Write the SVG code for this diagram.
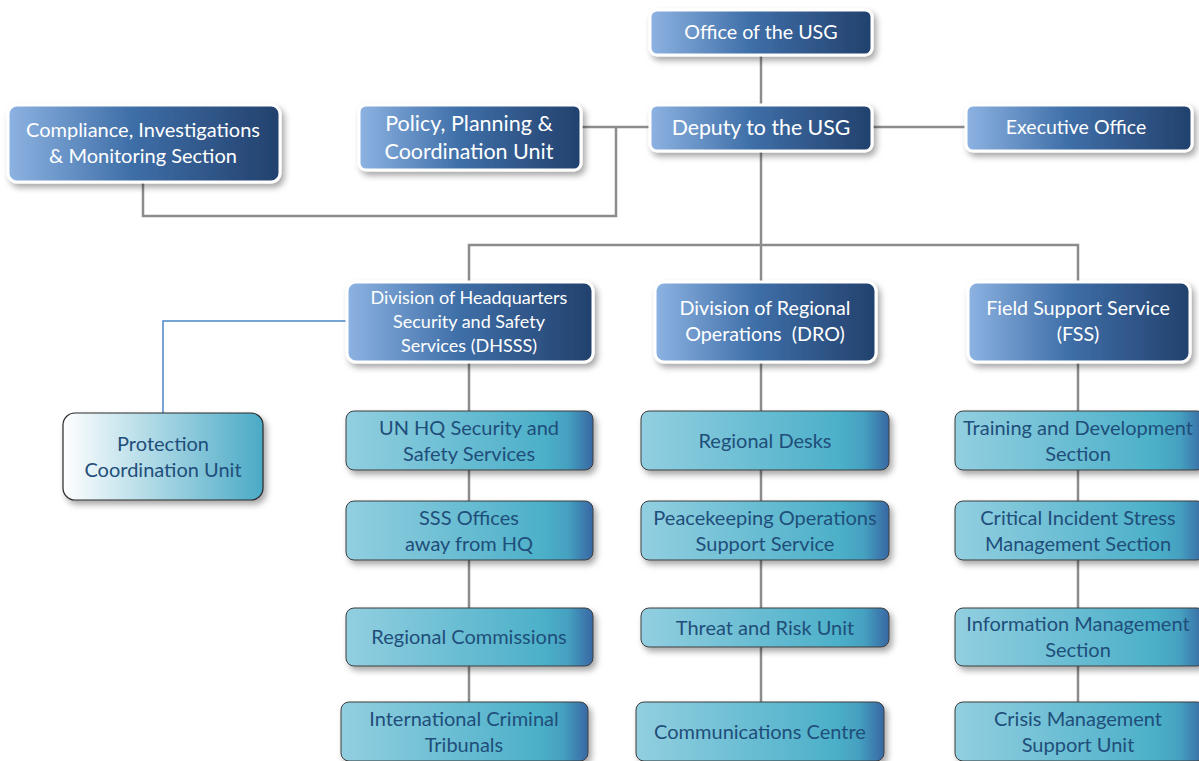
<svg xmlns="http://www.w3.org/2000/svg" width="1199" height="761" viewBox="0 0 1199 761">
<defs>
<linearGradient id="gTop" x1="0" y1="0" x2="1" y2="0">
<stop offset="0" stop-color="#8db3e2"/>
<stop offset="0.45" stop-color="#3f6fa8"/>
<stop offset="1" stop-color="#22416d"/>
</linearGradient>
<linearGradient id="gLow" x1="0" y1="0" x2="1" y2="0">
<stop offset="0" stop-color="#92cfe0"/>
<stop offset="0.8" stop-color="#4cb0c9"/>
<stop offset="0.9" stop-color="#45a0c0"/>
<stop offset="1" stop-color="#3867a3"/>
</linearGradient>
<linearGradient id="gPcu" x1="0" y1="0" x2="1" y2="0">
<stop offset="0" stop-color="#ffffff"/>
<stop offset="1" stop-color="#4aaac6"/>
</linearGradient>
<filter id="sh" x="-10%" y="-20%" width="125%" height="150%">
<feDropShadow dx="3" dy="4" stdDeviation="3" flood-color="#000" flood-opacity="0.35"/>
</filter>
<style>
.top{fill:url(#gTop);stroke:#fff;stroke-width:3;filter:url(#sh)}
.low{fill:url(#gLow);stroke:#3c3c3c;stroke-width:1;filter:url(#sh)}
.pcu{fill:url(#gPcu);stroke:#2a2a2a;stroke-width:1.2;filter:url(#sh)}
.tw{font-family:Lato,"Open Sans",sans-serif;fill:#fff;text-anchor:middle}
.td{font-family:Lato,"Open Sans",sans-serif;fill:#1f4e7a;text-anchor:middle;font-size:20px}
.c{fill:none;stroke:#8c8c8c;stroke-width:2.5}
.cb{fill:none;stroke:#4a86c8;stroke-width:1.5}
</style>
</defs>
<g id="connectors">
<path class="c" d="M761 55V105"/>
<path class="c" d="M581 127H650"/>
<path class="c" d="M872 127H966"/>
<path class="c" d="M616 127V216H143V182"/>
<path class="c" d="M761 151V245"/>
<path class="c" d="M469 282V245H1078V282"/>
<path class="c" d="M761 245V282"/>
<path class="c" d="M469 362V702"/>
<path class="c" d="M761 362V702"/>
<path class="c" d="M1078 362V702"/>
<path class="cb" d="M347 321H163V413"/>
</g>
<g id="office-usg"><rect class="top" x="650" y="10" width="222" height="45" rx="7"/><text class="tw" x="761" y="39" font-size="19.7">Office of the USG</text></g>
<g id="deputy-usg"><rect class="top" x="650" y="105" width="222" height="46" rx="7"/><text class="tw" x="761" y="135" font-size="21.3">Deputy to the USG</text></g>
<g id="executive-office"><rect class="top" x="966" y="105" width="226" height="46" rx="7"/><text class="tw" x="1076" y="134" font-size="19.5">Executive Office</text></g>
<g id="policy-unit"><rect class="top" x="359" y="105" width="222" height="65" rx="7"/><text class="tw" font-size="21.5"><tspan x="469" y="131">Policy, Planning &amp;</tspan><tspan x="469" y="159">Coordination Unit</tspan></text></g>
<g id="compliance"><rect class="top" x="8" y="105" width="272" height="77" rx="9"/><text class="tw" font-size="20"><tspan x="143" y="137">Compliance, Investigations</tspan><tspan x="143" y="163">&amp; Monitoring Section</tspan></text></g>
<g id="dhsss"><rect class="top" x="347" y="282" width="246" height="80" rx="9"/><text class="tw" font-size="18"><tspan x="469" y="304">Division of Headquarters</tspan><tspan x="469" y="328">Security and Safety</tspan><tspan x="469" y="352">Services (DHSSS)</tspan></text></g>
<g id="dro"><rect class="top" x="655" y="282" width="221" height="80" rx="9"/><text class="tw" font-size="19.7" xml:space="preserve"><tspan x="765" y="315">Division of Regional</tspan><tspan x="765" y="341">Operations  (DRO)</tspan></text></g>
<g id="fss"><rect class="top" x="968" y="282" width="222" height="80" rx="9"/><text class="tw" font-size="19.7"><tspan x="1078" y="315">Field Support Service</tspan><tspan x="1078" y="341">(FSS)</tspan></text></g>
<g id="pcu"><rect class="pcu" x="63" y="413" width="200" height="87" rx="12"/><text class="td"><tspan x="163" y="451">Protection</tspan><tspan x="163" y="477">Coordination Unit</tspan></text></g>
<g id="un-hq"><rect class="low" x="346" y="411" width="247" height="59" rx="8"/><text class="td"><tspan x="469" y="435">UN HQ Security and</tspan><tspan x="469" y="461">Safety Services</tspan></text></g>
<g id="sss-offices"><rect class="low" x="346" y="501" width="247" height="59" rx="8"/><text class="td"><tspan x="469" y="525">SSS Offices</tspan><tspan x="469" y="551">away from HQ</tspan></text></g>
<g id="regional-commissions"><rect class="low" x="346" y="608" width="247" height="58" rx="8"/><text class="td"><tspan x="469" y="644">Regional Commissions</tspan></text></g>
<g id="ict"><rect class="low" x="341" y="702" width="247" height="59" rx="8"/><text class="td"><tspan x="464" y="726">International Criminal</tspan><tspan x="464" y="752">Tribunals</tspan></text></g>
<g id="regional-desks"><rect class="low" x="641" y="411" width="248" height="59" rx="8"/><text class="td"><tspan x="765" y="448">Regional Desks</tspan></text></g>
<g id="peacekeeping"><rect class="low" x="641" y="501" width="248" height="59" rx="8"/><text class="td"><tspan x="765" y="525">Peacekeeping Operations</tspan><tspan x="765" y="551">Support Service</tspan></text></g>
<g id="threat-risk"><rect class="low" x="641" y="608" width="248" height="39" rx="8"/><text class="td"><tspan x="765" y="635">Threat and Risk Unit</tspan></text></g>
<g id="comms-centre"><rect class="low" x="636" y="702" width="248" height="59" rx="8"/><text class="td"><tspan x="760" y="739">Communications Centre</tspan></text></g>
<g id="training"><rect class="low" x="955" y="411" width="250" height="59" rx="8"/><text class="td"><tspan x="1078" y="435">Training and Development</tspan><tspan x="1078" y="461">Section</tspan></text></g>
<g id="cism"><rect class="low" x="955" y="501" width="250" height="59" rx="8"/><text class="td"><tspan x="1078" y="525">Critical Incident Stress</tspan><tspan x="1078" y="551">Management Section</tspan></text></g>
<g id="info-mgmt"><rect class="low" x="955" y="608" width="250" height="58" rx="8"/><text class="td"><tspan x="1078" y="631">Information Management</tspan><tspan x="1078" y="657">Section</tspan></text></g>
<g id="crisis-mgmt"><rect class="low" x="955" y="702" width="250" height="59" rx="8"/><text class="td"><tspan x="1078" y="726">Crisis Management</tspan><tspan x="1078" y="752">Support Unit</tspan></text></g>
</svg>
